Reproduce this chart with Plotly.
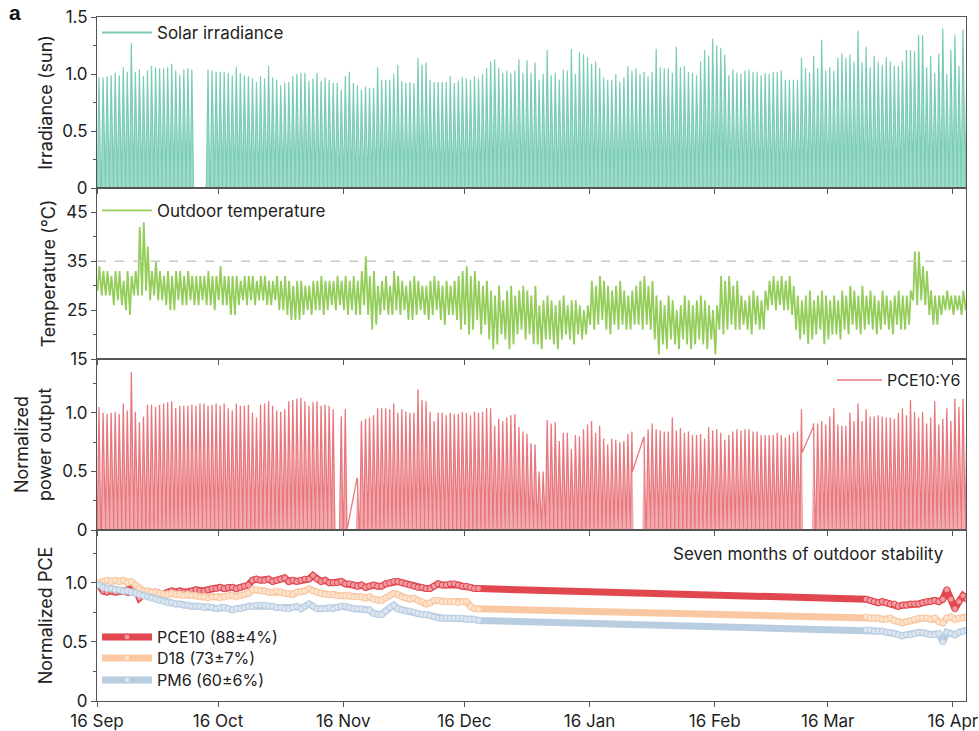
import pandas as pd
import plotly.graph_objects as go
from plotly.subplots import make_subplots

START = pd.Timestamp("2022-09-16")
X_END = pd.Timestamp("2023-04-19 06:00")

# ---------------- data (one value per day from 16 Sep) ----------------
# daily peak solar irradiance (sun); None = no record
irradiance_peak = [
    0.97, 0.97, 0.98, 0.99, 1.01, 0.99, 1.06, 1.02, 1.27, 1.02,
    1.04, 0.98, 1.03, 1.07, 1.06, 1.05, 1.05, 1.06, 1.09, 1.03,
    0.99, 1.04, 1.05, 1.04, None, None, None, 1.04, 1.03, 1.02,
    1.02, 1.02, 1.01, 0.99, 1.06, 1.01, 0.99, 0.98, 0.96, 0.93,
    0.98, 0.96, 1.07, 0.97, 0.95, 0.90, 0.92, 0.93, 0.98, 1.00,
    1.01, 1.01, 0.94, 0.96, 1.01, 0.94, 0.97, 0.95, 0.92, 0.92,
    0.86, 0.98, 1.02, 0.92, 0.90, 0.86, 0.89, 0.88, 0.88, 1.06,
    0.95, 0.95, 0.95, 1.00, 1.08, 0.94, 0.92, 0.93, 0.92, 1.14,
    1.08, 1.10, 0.95, 0.93, 0.93, 0.93, 0.93, 0.98, 0.92, 0.94,
    0.97, 0.96, 0.95, 0.98, 0.96, 1.00, 1.05, 1.11, 1.13, 1.05,
    1.01, 1.03, 1.01, 1.03, 1.13, 1.01, 1.12, 1.01, 1.10, 0.95,
    1.00, 1.21, 0.99, 1.01, 0.95, 1.04, 1.03, 1.22, 1.00, 1.19,
    1.17, 1.15, 1.09, 1.11, 1.05, 0.97, 0.95, 0.95, 1.00, 0.93,
    0.97, 1.07, 1.03, 1.05, 1.00, 1.02, 0.98, 1.02, 1.22, 1.06,
    1.05, 1.05, 1.01, 1.24, 1.06, 1.07, 1.02, 1.01, 0.99, 1.11,
    1.21, 1.16, 1.31, 1.25, 1.23, 1.17, 0.99, 1.04, 1.01, 1.00,
    1.03, 1.04, 1.02, 1.02, 0.99, 1.01, 1.00, 1.02, 1.02, 1.03,
    0.95, 0.95, 0.95, 0.95, 1.14, 1.05, 1.01, 1.16, 1.05, 1.30,
    1.03, 1.06, 1.03, 1.14, 1.18, 1.14, 1.17, 1.11, 1.38, 1.10,
    1.24, 1.06, 1.16, 1.11, 1.08, 1.15, 1.11, 1.07, 1.07, 1.11,
    1.21, 1.21, 1.20, 1.34, 1.34, 1.06, 1.16, 1.01, 1.18, 1.40,
    1.00, 1.21, 1.34, 1.07, 1.39, 1.20,
]

# daily maximum / minimum outdoor temperature (deg C)
temp_high = [
    34, 33, 33, 32, 33, 33, 31, 33, 32, 33,
    42, 43, 38, 33, 35, 33, 32, 33, 32, 33,
    33, 32, 33, 32, 32, 32, 32, 33, 32, 32,
    34, 32, 32, 32, 32, 31, 32, 32, 32, 31,
    32, 32, 31, 31, 32, 31, 32, 31, 30, 31,
    31, 30, 30, 31, 31, 32, 31, 31, 31, 32,
    31, 32, 31, 32, 31, 33, 36, 32, 33, 30,
    31, 32, 30, 33, 32, 31, 30, 31, 32, 31,
    30, 30, 31, 32, 31, 30, 31, 30, 31, 32,
    33, 34, 32, 33, 31, 30, 31, 29, 28, 30,
    27, 29, 30, 28, 29, 30, 29, 28, 30, 26,
    27, 28, 27, 26, 27, 28, 26, 27, 27, 26,
    25, 26, 31, 30, 32, 31, 30, 29, 30, 31,
    29, 28, 29, 30, 31, 32, 30, 31, 28, 27,
    26, 28, 27, 25, 26, 28, 27, 26, 27, 28,
    27, 26, 25, 26, 32, 31, 32, 30, 31, 28,
    27, 28, 29, 28, 27, 29, 31, 32, 31, 32,
    31, 32, 30, 28, 27, 28, 29, 27, 28, 29,
    28, 27, 28, 27, 29, 28, 30, 29, 28, 30,
    28, 29, 28, 27, 29, 28, 27, 28, 29, 28,
    28, 29, 37, 37, 34, 33, 29, 28, 28, 28,
    29, 28, 28, 28, 29, 28,
]
temp_low = [
    29, 28, 28, 28, 26, 27, 26, 25, 24, 28,
    28, 28, 29, 27, 28, 27, 27, 26, 25, 25,
    27, 26, 26, 27, 26, 26, 27, 26, 26, 25,
    27, 26, 26, 24, 24, 26, 27, 26, 27, 26,
    27, 27, 26, 26, 27, 25, 25, 24, 23, 23,
    23, 24, 25, 24, 25, 25, 24, 25, 26, 25,
    26, 25, 24, 25, 24, 24, 26, 24, 21, 22,
    24, 25, 24, 24, 25, 24, 25, 23, 23, 24,
    25, 24, 23, 24, 25, 23, 22, 24, 24, 23,
    21, 22, 20, 21, 23, 20, 22, 19, 17, 18,
    20, 19, 17, 18, 20, 21, 19, 20, 18, 18,
    17, 19, 19, 18, 17, 19, 20, 19, 18, 20,
    19, 20, 22, 21, 22, 23, 21, 20, 22, 21,
    22, 21, 21, 22, 22, 21, 22, 21, 19, 16,
    18, 17, 19, 18, 17, 19, 18, 17, 18, 19,
    18, 17, 19, 16, 21, 20, 21, 22, 21, 21,
    22, 21, 20, 22, 21, 21, 25, 26, 25, 26,
    25, 25, 24, 21, 19, 20, 18, 19, 20, 21,
    18, 19, 20, 20, 19, 21, 20, 22, 21, 20,
    21, 22, 21, 20, 21, 22, 21, 20, 22, 21,
    21, 22, 27, 26, 27, 26, 24, 22, 22, 24,
    25, 25, 24, 25, 24, 25,
]
TEMP_LIMIT = 35

# daily peak normalized power output of the PCE10:Y6 module; None = no record
power_peak = [
    1.05, 1.00, 0.99, 1.00, 1.01, 0.99, 1.08, 1.02, 1.35, 1.01,
    0.92, 0.97, 1.07, 1.07, 1.05, 1.07, 1.08, 1.09, 1.10, 1.04,
    1.06, 1.06, 1.06, 1.07, 1.06, 1.08, 1.08, 1.06, 1.07, 1.08,
    1.06, 1.08, 1.04, 1.02, 1.08, 1.06, 1.06, 1.07, 1.00, 0.96,
    1.07, 1.08, 1.10, 1.06, 1.02, 1.01, 1.03, 1.10, 1.11, 1.12,
    1.13, 1.10, 1.06, 1.09, 1.10, 1.06, 1.07, 1.06, 1.03, None,
    0.97, 1.03, None, None, 0.44, 0.93, 0.95, 0.96, 0.98, 1.04,
    1.04, 1.04, 1.03, 1.08, 1.00, 1.03, 1.01, 1.00, 1.00, 1.20,
    1.11, 1.10, 1.01, 0.93, 1.00, 1.00, 0.98, 1.00, 0.99, 0.99,
    1.01, 1.00, 0.98, 1.01, 1.00, 1.01, 1.04, 1.04, 0.89, 0.95,
    0.93, 0.96, 0.98, 0.99, 0.88, 0.84, 0.82, 0.74, 0.73, 0.50,
    0.50, 0.94, 0.91, 0.92, 0.76, 0.83, 0.83, 0.69, 0.81, 0.80,
    0.86, 0.90, 0.93, 0.83, 0.89, 0.78, 0.73, 0.78, 0.77, 0.75,
    0.76, 0.82, 0.84, None, None, 0.79, 0.86, 0.91, 0.86, 0.85,
    0.84, 0.84, 0.96, 0.85, 0.87, 0.83, 0.84, 0.81, 0.81, 0.82,
    0.78, 0.88, 0.85, 0.86, 0.83, 0.77, 0.81, 0.84, 0.86, 0.85,
    0.86, 0.86, 0.84, 0.84, 0.81, 0.81, 0.81, 0.81, 0.83, 0.81,
    0.79, 0.81, 0.83, 0.84, 1.03, None, None, 0.91, 0.91, 0.93,
    0.90, 0.97, 1.04, 0.90, 0.89, 0.89, 1.00, 0.93, 1.08, 0.93,
    1.03, 0.97, 0.97, 0.98, 0.97, 0.96, 0.96, 0.95, 1.00, 1.04,
    0.98, 1.11, 1.01, 0.96, 1.01, 0.91, 0.96, 1.10, 0.90, 0.95,
    1.04, 0.93, 1.12, 1.05, 1.12, 1.05,
]
# day index -> output when logging stopped in the afternoon / resumed in the morning
power_stop = {132: 0.50, 174: 0.66}
power_resume = {64: 0.44, 135: 0.79, 177: 0.88}

# normalized PCE of the three blends (days since 16 Sep)
pce_days = list(range(0, 95)) + list(range(190, 216))
pce10 = [
    0.98, 0.93, 0.92, 0.93, 0.92, 0.93, 0.93, 0.92, 1.00, 0.95,
    0.87, 0.90, 0.91, 0.92, 0.92, 0.91, 0.90, 0.92, 0.93, 0.92,
    0.93, 0.92, 0.92, 0.93, 0.94, 0.93, 0.93, 0.94, 0.95, 0.95,
    0.96, 0.95, 0.96, 0.96, 0.95, 0.96, 0.97, 0.98, 1.02, 1.03,
    1.02, 1.02, 1.03, 1.01, 1.02, 1.03, 1.04, 1.01, 1.02, 1.01,
    1.02, 1.03, 1.03, 1.06, 1.03, 1.01, 1.02, 1.00, 1.00, 1.00,
    1.01, 0.99, 0.99, 0.98, 0.97, 0.98, 0.96, 0.97, 0.98, 0.97,
    0.97, 0.99, 1.00, 1.01, 1.01, 1.00, 0.99, 0.98, 0.97, 0.96,
    0.96, 0.95, 0.95, 0.97, 0.99, 0.98, 0.98, 0.99, 0.99, 0.98,
    0.97, 0.97, 0.96, 0.95, 0.95,
    0.86, 0.85, 0.84, 0.83, 0.84, 0.83, 0.82, 0.82, 0.80, 0.81,
    0.81, 0.82, 0.82, 0.82, 0.83, 0.84, 0.84, 0.85, 0.84, 0.86,
    0.94, 0.86, 0.78, 0.84, 0.89, 0.86,
]
d18 = [
    1.00, 1.01, 1.02, 1.01, 1.02, 1.01, 1.02, 1.00, 1.01, 0.98,
    0.95, 0.93, 0.93, 0.92, 0.92, 0.91, 0.90, 0.90, 0.91, 0.90,
    0.90, 0.89, 0.90, 0.89, 0.89, 0.88, 0.88, 0.87, 0.88, 0.88,
    0.87, 0.88, 0.89, 0.89, 0.88, 0.89, 0.90, 0.91, 0.94, 0.94,
    0.93, 0.93, 0.92, 0.92, 0.93, 0.92, 0.91, 0.91, 0.90, 0.92,
    0.92, 0.93, 0.95, 0.93, 0.92, 0.91, 0.90, 0.90, 0.90, 0.89,
    0.89, 0.89, 0.89, 0.88, 0.88, 0.88, 0.87, 0.88, 0.86, 0.85,
    0.85, 0.87, 0.89, 0.91, 0.90, 0.88, 0.87, 0.86, 0.87, 0.85,
    0.84, 0.82, 0.83, 0.85, 0.85, 0.84, 0.84, 0.84, 0.84, 0.83,
    0.84, 0.84, 0.80, 0.78, 0.78,
    0.71, 0.70, 0.70, 0.70, 0.69, 0.69, 0.70, 0.68, 0.67, 0.66,
    0.67, 0.68, 0.69, 0.70, 0.70, 0.70, 0.69, 0.70, 0.67, 0.66,
    0.70, 0.71, 0.69, 0.70, 0.70, 0.71,
]
pm6 = [
    0.98, 0.96, 0.95, 0.95, 0.94, 0.94, 0.93, 0.93, 0.92, 0.91,
    0.90, 0.89, 0.88, 0.87, 0.86, 0.85, 0.84, 0.83, 0.83, 0.82,
    0.82, 0.81, 0.81, 0.80, 0.80, 0.80, 0.79, 0.80, 0.79, 0.78,
    0.79, 0.79, 0.78, 0.77, 0.78, 0.78, 0.79, 0.80, 0.80, 0.81,
    0.81, 0.81, 0.80, 0.80, 0.79, 0.79, 0.78, 0.78, 0.79, 0.80,
    0.78, 0.80, 0.82, 0.80, 0.78, 0.78, 0.78, 0.79, 0.78, 0.79,
    0.80, 0.80, 0.79, 0.78, 0.78, 0.78, 0.77, 0.77, 0.74, 0.73,
    0.73, 0.76, 0.79, 0.81, 0.78, 0.77, 0.76, 0.76, 0.75, 0.74,
    0.73, 0.73, 0.72, 0.71, 0.70, 0.70, 0.70, 0.70, 0.70, 0.70,
    0.70, 0.69, 0.69, 0.69, 0.68,
    0.60, 0.60, 0.59, 0.59, 0.59, 0.58, 0.58, 0.57, 0.56, 0.55,
    0.56, 0.56, 0.57, 0.58, 0.58, 0.57, 0.56, 0.56, 0.57, 0.50,
    0.58, 0.57, 0.56, 0.58, 0.59, 0.60,
]
pce_names = ["PCE10 (88±4%)", "D18 (73±7%)", "PM6 (60±6%)"]
pce_colors = ["#e0474f", "#f9c8a2", "#b9cde1"]
pce_marker = ["#f29aa0", "#fde3cc", "#dbe6f1"]

tick_dates = ["2022-09-16", "2022-10-16", "2022-11-16", "2022-12-16",
              "2023-01-16", "2023-02-16", "2023-03-16", "2023-04-16"]
tick_text = ["16 Sep", "16 Oct", "16 Nov", "16 Dec", "16 Jan", "16 Feb", "16 Mar", "16 Apr"]

IRR_C = "rgb(122,204,183)"
IRR_F = "rgba(122,204,183,0.72)"
TMP_C = "rgb(148,205,90)"
POW_C = "rgb(233,120,126)"
POW_F = "rgba(233,120,126,0.62)"
FONT = "Inter"
AX = "#555555"
H = pd.Timedelta(hours=1)


def day_ts(d):
    return START + pd.Timedelta(days=d)


def profile(peaks, stop=None, resume=None):
    """Daily profile: 0 before sunrise, peak at noon, 0 after sunset.
    Returns the connected line and a fill outline broken at missing days."""
    stop = stop or {}
    resume = resume or {}
    lx, ly, fx, fy = [], [], [], []
    prev = None
    for d, p in enumerate(peaks):
        if p is None:
            continue
        t = day_ts(d)
        if prev is not None and d - prev > 1:
            fx.append(None); fy.append(None)
        fx += [t + 2 * H, t + 12 * H, t + 22 * H]
        fy += [0, p, 0]
        if d in resume:
            lx.append(t + 10 * H); ly.append(resume[d])
        else:
            lx.append(t + 2 * H); ly.append(0)
        lx.append(t + 12 * H); ly.append(p)
        if d in stop:
            lx.append(t + 15 * H); ly.append(stop[d])
        else:
            lx.append(t + 22 * H); ly.append(0)
        prev = d
    return lx, ly, fx, fy


fig = make_subplots(rows=4, cols=1, shared_xaxes=True, vertical_spacing=0)

# panel 1: irradiance (gap left blank)
_, _, ifx, ify = profile(irradiance_peak)
fig.add_trace(go.Scatter(x=ifx, y=ify, mode="lines", fill="tozeroy", fillcolor=IRR_F,
                         line=dict(color=IRR_C, width=1.2), showlegend=False,
                         hoverinfo="skip"), row=1, col=1)
fig.add_trace(go.Scatter(x=[None], y=[None], mode="lines", line=dict(color=IRR_C, width=2),
                         name="Solar irradiance", legend="legend"), row=1, col=1)

# panel 2: temperature
tx, ty = [], []
for d, (lo, hi) in enumerate(zip(temp_low, temp_high)):
    t = day_ts(d)
    tx += [t + 4 * H, t + 14 * H]
    ty += [lo, hi]
fig.add_trace(go.Scatter(x=tx, y=ty, mode="lines", line=dict(color=TMP_C, width=1.8),
                         name="Outdoor temperature", legend="legend2"), row=2, col=1)

# panel 3: power output
lx, ly, fx, fy = profile(power_peak, power_stop, power_resume)
fig.add_trace(go.Scatter(x=fx, y=fy, mode="none", fill="tozeroy", fillcolor=POW_F,
                         showlegend=False, hoverinfo="skip"), row=3, col=1)
fig.add_trace(go.Scatter(x=lx, y=ly, mode="lines", line=dict(color=POW_C, width=1.3),
                         name="PCE10:Y6", legend="legend3"), row=3, col=1)

# panel 4: normalized PCE (one legend box per blend, stacked)
pce_x = [day_ts(d) + 12 * H for d in pce_days]
pce_legends = ["legend4", "legend5", "legend6"]
for name, vals, c, mc, lg in zip(pce_names, [pce10, d18, pm6], pce_colors, pce_marker,
                                 pce_legends):
    fig.add_trace(go.Scatter(x=pce_x, y=vals, mode="lines+markers", name=name,
                             line=dict(color=c, width=7),
                             marker=dict(size=6, color=mc, line=dict(color=c, width=1)),
                             legend=lg), row=4, col=1)

fig.add_hline(y=TEMP_LIMIT, line=dict(color="#c9c9c9", width=1.5, dash="dash"), row=2, col=1)

for r in range(1, 5):
    fig.update_xaxes(row=r, col=1, type="date", range=[START, X_END],
                     showline=True, linecolor=AX, linewidth=1, mirror=True,
                     ticks="outside", ticklen=5, tickcolor=AX,
                     tickvals=tick_dates, ticktext=tick_text,
                     showgrid=False, zeroline=False, automargin=False,
                     ticklabeloverflow="allow",
                     showticklabels=(r == 4),
                     tickfont=dict(family=FONT, size=17, color="#222"))

yfont = dict(family=FONT, size=17, color="#222")
tfont = dict(family=FONT, size=18, color="#222")
common_y = dict(showline=True, linecolor=AX, linewidth=1, mirror=True, ticks="outside",
                ticklen=5, tickcolor=AX, showgrid=False, zeroline=False, tickfont=yfont,
                title_font=tfont, title_standoff=5, automargin=False,
                ticklabeloverflow="allow")
minor = dict(ticks="outside", ticklen=3, tickcolor=AX)
fig.update_yaxes(row=1, col=1, range=[0, 1.5], tickvals=[0, 0.5, 1.0, 1.5],
                 ticktext=["0", "0.5", "1.0", "1.5"],
                 minor=dict(tickvals=[0.25, 0.75, 1.25], **minor),
                 title_text="Irradiance (sun)", **common_y)
fig.update_yaxes(row=2, col=1, range=[15, 50], tickvals=[15, 25, 35, 45],
                 minor=dict(tickvals=[20, 30, 40], **minor),
                 title_text="Temperature (°C)", **common_y)
fig.update_yaxes(row=3, col=1, range=[0, 1.46], tickvals=[0, 0.5, 1.0],
                 ticktext=["0", "0.5", "1.0"],
                 minor=dict(tickvals=[0.25, 0.75, 1.25], **minor),
                 title_text="Normalized<br>power output", **common_y)
fig.update_yaxes(row=4, col=1, range=[0, 1.445], tickvals=[0, 0.5, 1.0],
                 ticktext=["0", "0.5", "1.0"],
                 minor=dict(tickvals=[0.25, 0.75, 1.25], **minor),
                 title_text="Normalized PCE", **common_y)

leg_common = dict(bgcolor="rgba(0,0,0,0)", xanchor="left", itemwidth=50, tracegroupgap=0)
f17 = dict(family=FONT, size=17, color="#222")
f16 = dict(family=FONT, size=16, color="#222")
fig.update_layout(
    width=979, height=731,
    margin=dict(l=97, r=13, t=17, b=30),
    paper_bgcolor="white", plot_bgcolor="white",
    font=dict(family=FONT, color="#222"),
    legend=dict(x=0.0, y=1.003, yanchor="top", font=f17, **leg_common),
    legend2=dict(x=0.0, y=0.743, yanchor="top", font=f17, **leg_common),
    legend3=dict(x=1.0, y=0.494, bgcolor="rgba(0,0,0,0)", font=f16,
                 xanchor="right", yanchor="top", itemwidth=45),
    legend4=dict(x=0.0, y=0.0936, yanchor="middle", font=f16, **leg_common),
    legend5=dict(x=0.0, y=0.0629, yanchor="middle", font=f16, **leg_common),
    legend6=dict(x=0.0, y=0.0307, yanchor="middle", font=f16, **leg_common),
    annotations=[
        dict(text="Seven months of outdoor stability", xref="paper", yref="paper",
             x=0.977, y=0.215, xanchor="right", yanchor="middle", showarrow=False,
             font=f17),
        dict(text="<b>a</b>", xref="paper", yref="paper", x=-0.094, y=1.007,
             xanchor="center", yanchor="middle", showarrow=False,
             font=dict(family="Liberation Sans", size=21, color="#111")),
    ],
)

fig.write_html("out.html", config={"displayModeBar": False},
               post_script="document.body.style.margin='0';document.body.style.overflow='hidden';")
